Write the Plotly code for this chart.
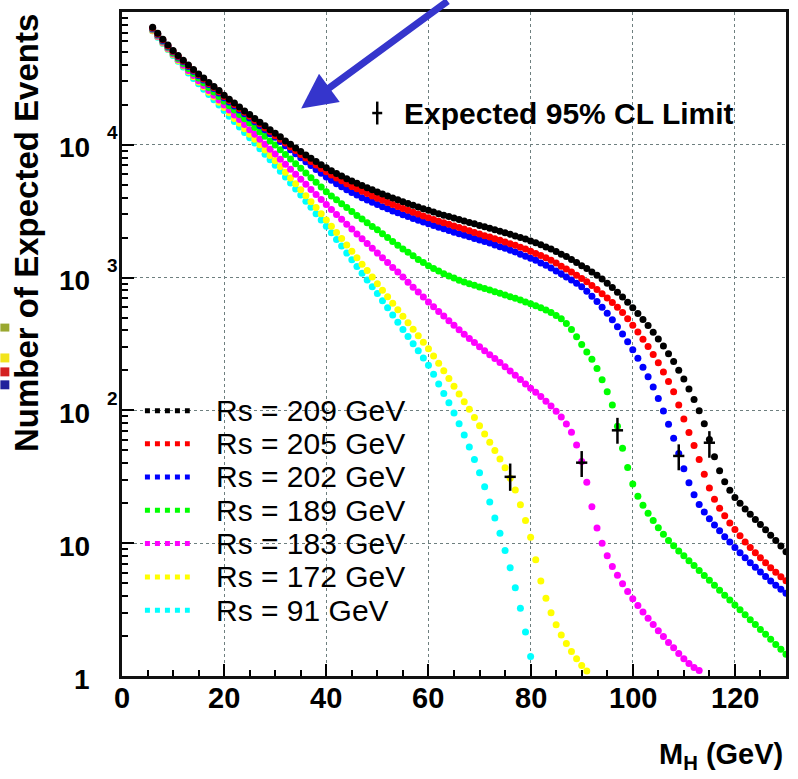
import numpy as np
import plotly.graph_objects as go

# Higgs mass scan points (GeV)
mh = list(range(6, 131))

# Expected number of events versus M_H for each centre-of-mass energy
n209 = [76700, 69200, 62400, 56500, 51300, 47000, 43300, 39900, 36900, 34200,
        31800, 29500, 27500, 25600, 23600, 22000, 20600, 19300, 18000, 16900,
        15800, 14800, 13900, 13000, 12200, 11500, 10700, 10100, 9480, 8910,
        8390, 7930, 7480, 7080, 6710, 6380, 6080, 5810, 5560, 5330,
        5130, 4930, 4750, 4580, 4420, 4270, 4120, 3980, 3850, 3730,
        3610, 3510, 3400, 3300, 3210, 3120, 3030, 2950, 2880, 2810,
        2740, 2670, 2600, 2540, 2470, 2410, 2350, 2290, 2230, 2180,
        2120, 2060, 2000, 1950, 1890, 1830, 1770, 1700, 1640, 1570,
        1500, 1440, 1370, 1300, 1230, 1170, 1100, 1040, 975, 908,
        841, 776, 713, 652, 593, 537, 484, 435, 388, 345,
        305, 267, 233, 201, 172, 145, 121, 99.3, 79.4, 60.3,
        44.7, 35.1, 29.0, 25.0, 22.1, 20.0, 18.1, 16.5, 15.1, 13.8,
        12.6, 11.5, 10.5, 9.51, 8.61]
n205 = [75900, 68400, 61700, 55800, 50700, 46500, 42700, 39400, 36400, 33700,
        31300, 29000, 27000, 25100, 23100, 21600, 20100, 18800, 17600, 16400,
        15300, 14400, 13400, 12600, 11700, 11000, 10300, 9640, 9040, 8470,
        7960, 7480, 7050, 6640, 6270, 5930, 5620, 5350, 5090, 4860,
        4660, 4470, 4290, 4120, 3960, 3820, 3680, 3550, 3430, 3310,
        3210, 3100, 3010, 2910, 2820, 2740, 2660, 2590, 2520, 2450,
        2380, 2320, 2250, 2190, 2130, 2070, 2020, 1960, 1910, 1850,
        1800, 1750, 1690, 1640, 1580, 1520, 1470, 1410, 1350, 1290,
        1220, 1160, 1100, 1040, 986, 929, 871, 813, 757, 701,
        649, 597, 547, 490, 437, 389, 344, 303, 264, 228,
        195, 165, 138, 110, 86.1, 68.1, 54.3, 42.7, 33.1, 26.0,
        21.4, 18.3, 16.1, 14.2, 12.7, 11.4, 10.2, 9.29, 8.47, 7.76,
        7.11, 6.53, 6.03, 5.60, 5.22]
n202 = [75000, 67600, 61000, 55200, 50100, 45900, 42200, 38800, 35800, 33100,
        30700, 28500, 26500, 24600, 22600, 21000, 19600, 18300, 17100, 15900,
        14900, 13900, 13000, 12100, 11400, 10600, 9840, 9160, 8550, 7980,
        7450, 6970, 6520, 6110, 5730, 5400, 5090, 4830, 4590, 4380,
        4180, 4000, 3840, 3690, 3550, 3420, 3300, 3180, 3080, 2970,
        2880, 2790, 2700, 2620, 2540, 2470, 2390, 2330, 2260, 2200,
        2140, 2080, 2030, 1970, 1920, 1870, 1820, 1760, 1710, 1660,
        1610, 1560, 1500, 1450, 1400, 1350, 1290, 1240, 1180, 1120,
        1070, 1010, 959, 906, 853, 789, 724, 661, 598, 538,
        481, 427, 376, 329, 286, 247, 211, 179, 150, 123,
        98.9, 78.5, 61.7, 47.3, 36.3, 28.5, 23.2, 19.6, 17.2, 15.3,
        13.7, 12.4, 11.2, 10.2, 9.29, 8.49, 7.78, 7.14, 6.58, 6.07,
        5.61, 5.20, 4.83, 4.50, 4.20]
n189 = [74100, 66700, 60100, 54300, 49200, 44900, 41000, 37600, 34500, 31800,
        29300, 27000, 25000, 23100, 21300, 19700, 18300, 16900, 15700, 14600,
        13500, 12500, 11600, 10700, 9950, 9180, 8470, 7820, 7210, 6650,
        6140, 5660, 5220, 4810, 4440, 4120, 3850, 3600, 3370, 3150,
        2940, 2760, 2590, 2430, 2290, 2140, 2000, 1870, 1750, 1640,
        1550, 1460, 1370, 1300, 1230, 1170, 1120, 1070, 1030, 991,
        957, 927, 899, 875, 851, 828, 805, 783, 762, 741,
        719, 698, 678, 656, 635, 614, 592, 569, 545, 519,
        490, 452, 407, 359, 313, 275, 243, 207, 170, 138,
        110, 75.9, 51.9, 37.2, 27.9, 22.6, 19.3, 16.8, 14.8, 13.1,
        11.7, 10.5, 9.55, 8.75, 8.04, 7.38, 6.78, 6.22, 5.71, 5.25,
        4.82, 4.43, 4.06, 3.73, 3.43, 3.15, 2.89, 2.65, 2.44, 2.24,
        2.06, 1.89, 1.73, 1.59, 1.46]
n183 = [73300, 65800, 59200, 53300, 48200, 43800, 39800, 36300, 33200, 30400,
        27900, 25600, 23600, 21700, 19900, 18300, 16800, 15500, 14200, 13000,
        12000, 11000, 10100, 9270, 8510, 7800, 7140, 6550, 6000, 5500,
        5040, 4610, 4230, 3870, 3550, 3260, 2990, 2750, 2520, 2320,
        2130, 1960, 1810, 1660, 1530, 1410, 1300, 1190, 1100, 1010,
        923, 847, 778, 714, 656, 604, 556, 513, 473, 438,
        405, 375, 348, 324, 301, 281, 263, 246, 229, 213,
        198, 184, 171, 158, 147, 137, 127, 117, 108, 98.6,
        89.1, 79.1, 68.4, 55.0, 41.2, 28.8, 18.8, 13.0, 10.0, 8.04,
        6.68, 5.73, 4.95, 4.33, 3.82, 3.40, 3.03, 2.72, 2.44, 2.19,
        1.98, 1.79, 1.63, 1.48, 1.35, 1.24, 1.16, 1.10]
n172 = [72400, 65000, 58500, 52700, 47600, 43200, 39200, 35600, 32500, 29700,
        27200, 24900, 22900, 20900, 19100, 17400, 15800, 14500, 13200, 12000,
        11000, 10000, 9120, 8320, 7590, 6870, 6220, 5620, 5080, 4590,
        4140, 3730, 3370, 3030, 2720, 2440, 2190, 1970, 1760, 1580,
        1410, 1260, 1130, 1010, 899, 804, 718, 641, 573, 512,
        457, 408, 365, 326, 291, 257, 226, 199, 174, 152,
        133, 116, 102, 88.3, 76.6, 66.4, 57.5, 49.9, 43.1, 37.0,
        30.9, 25.1, 19.5, 14.8, 11.1, 7.50, 5.19, 3.85, 2.99, 2.43,
        2.04, 1.76, 1.53, 1.35, 1.20, 1.09]
n91 = [72100, 64600, 57900, 52100, 47000, 42500, 38500, 34800, 31600, 28800,
       26200, 23900, 21800, 19900, 18100, 16400, 15000, 13600, 12400, 11300,
       10300, 9330, 8490, 7710, 7000, 6320, 5710, 5150, 4650, 4180,
       3760, 3380, 3030, 2720, 2440, 2180, 1940, 1730, 1530, 1360,
       1210, 1080, 959, 853, 759, 670, 592, 522, 461, 407,
       360, 318, 281, 248, 219, 187, 158, 134, 114, 95.5,
       79.4, 65.3, 53.1, 42.7, 33.9, 26.6, 20.4, 15.5, 11.9, 8.81,
       6.53, 4.62, 3.24, 2.14, 1.40]

# Expected 95% CL limits (central value with vertical extent)
lim_mh = [76, 90, 97, 109, 115]
lim_n = [31.6, 40.4, 70.8, 45.4, 57.1]
lim_lo = [24.8, 31.5, 56.1, 35.4, 44.0]
lim_hi = [39.8, 49.4, 87.9, 55.5, 69.8]
lim_dm = [1.1, 1.1, 1.1, 1.1, 1.1]

# Legend order (top to bottom) and colours
labels = ["Rs = 209 GeV", "Rs = 205 GeV", "Rs = 202 GeV", "Rs = 189 GeV",
          "Rs = 183 GeV", "Rs = 172 GeV", "Rs = 91 GeV"]
values = [n209, n205, n202, n189, n183, n172, n91]
colors = ["#000000", "#ff0000", "#0000ff", "#00ff00", "#ff00ff", "#ffff00", "#00ffff"]

x_ticks = [0, 20, 40, 60, 80, 100, 120]
y_ticks = [1, 10, 100, 1000, 10000]
y_tick_base = ["1", "10", "10", "10", "10"]
y_tick_exp = ["", "", "2", "3", "4"]

FONT = "Liberation Sans, Arial, Helvetica, sans-serif"
W, H = 798, 779
ML, MR, MT, MB = 122, 10, 9, 103
PW, PH = W - ML - MR, H - MT - MB


def px(xpix):
    return (xpix - ML) / PW


def py(ypix):
    return (MT + PH - ypix) / PH


fig = go.Figure()

# lowest energy drawn first so the high-energy curves sit on top
for lab, vals, col in reversed(list(zip(labels, values, colors))):
    fig.add_trace(go.Scatter(
        x=mh[:len(vals)], y=vals, mode="markers", name=lab,
        marker=dict(size=7, color=col, line=dict(width=0)),
        showlegend=False, hoverinfo="skip"))

fig.add_trace(go.Scatter(
    x=lim_mh, y=lim_n, mode="markers",
    marker=dict(size=2, color="rgba(0,0,0,0)"),
    error_y=dict(type="data", symmetric=False,
                 array=[h - n for h, n in zip(lim_hi, lim_n)],
                 arrayminus=[n - l for n, l in zip(lim_n, lim_lo)],
                 color="black", thickness=2.5, width=0),
    error_x=dict(type="data", array=lim_dm, color="black", thickness=2.5, width=0),
    showlegend=False, hoverinfo="skip"))

grid = dict(showgrid=True, gridcolor="#6e7f7f", griddash="dot", gridwidth=1)

fig.update_xaxes(
    range=[0, 130], tickmode="array", tickvals=x_ticks,
    showticklabels=False,
    ticks="inside", ticklen=12, tickwidth=1.5, tickcolor="black",
    showline=True, mirror=True, linewidth=2.5, linecolor="#111111",
    zeroline=False,
    minor=dict(dtick=5, ticks="inside", ticklen=6, tickwidth=1.5,
               tickcolor="black", showgrid=False),
    **grid)

minor_y = [m * 10 ** e for e in range(5) for m in range(2, 10)]
fig.update_yaxes(
    type="log", range=[0, 5], tickmode="array", tickvals=y_ticks,
    showticklabels=False,
    ticks="inside", ticklen=12, tickwidth=1.5, tickcolor="black",
    showline=True, mirror=True, linewidth=2.5, linecolor="#111111",
    zeroline=False,
    minor=dict(tickmode="array", tickvals=minor_y, ticks="inside", ticklen=6,
               tickwidth=1.5, tickcolor="black", showgrid=False),
    **grid)

annotations = []
shapes = []

# x tick labels
for v in x_ticks:
    annotations.append(dict(
        x=v, xref="x", xanchor="center",
        y=0, yref="paper", yanchor="middle", yshift=-22,
        text=str(v), showarrow=False,
        font=dict(family=FONT, size=29, color="black", weight="bold")))

# y tick labels, "10" with a detached exponent
for v, base, ex in zip(y_ticks, y_tick_base, y_tick_exp):
    annotations.append(dict(
        x=0, xref="paper", xanchor="right", xshift=-30,
        y=np.log10(v), yref="y", yanchor="middle", yshift=-3,
        text=base, showarrow=False,
        font=dict(family=FONT, size=28, color="black", weight="bold")))
    if ex:
        annotations.append(dict(
            x=0, xref="paper", xanchor="center", xshift=-9.5,
            y=np.log10(v), yref="y", yanchor="middle", yshift=12,
            text=ex, showarrow=False,
            font=dict(family=FONT, size=19, color="black", weight="bold")))

# axis titles
annotations.append(dict(
    x=0, xref="paper", xanchor="center", xshift=-96,
    y=py(231), yref="paper", yanchor="middle",
    text="Number of Expected Events", textangle=-90, showarrow=False,
    font=dict(family=FONT, size=33, color="black", weight="bold")))
annotations.append(dict(
    x=1, xref="paper", xanchor="right", xshift=-1,
    y=0, yref="paper", yanchor="middle", yshift=-80,
    text="M<sub>H</sub> (GeV)", showarrow=False,
    font=dict(family=FONT, size=29, color="black", weight="bold")))

# legend of the curves
row_y = [409.5, 442.8, 476.0, 509.5, 543.0, 576.5, 610.0]
for lab, col, ry in zip(labels, colors, row_y):
    shapes.append(dict(type="line", xref="paper", yref="paper",
                       x0=px(145), x1=px(190), y0=py(ry), y1=py(ry),
                       line=dict(color=col, width=5, dash="dot")))
    annotations.append(dict(
        x=px(214), xref="paper", xanchor="left",
        y=py(ry), yref="paper", yanchor="middle",
        text=lab, showarrow=False,
        font=dict(family=FONT, size=30, color="black")))

# legend entry for the limit markers
shapes.append(dict(type="line", xref="paper", yref="paper",
                   x0=px(378), x1=px(378), y0=py(99), y1=py(122),
                   line=dict(color="black", width=2.5)))
shapes.append(dict(type="line", xref="paper", yref="paper",
                   x0=px(373), x1=px(383), y0=py(110.5), y1=py(110.5),
                   line=dict(color="black", width=2.5)))
annotations.append(dict(
    x=px(403), xref="paper", xanchor="left",
    y=py(111), yref="paper", yanchor="middle",
    text="Expected 95% CL Limit", showarrow=False,
    font=dict(family=FONT, size=30, color="black", weight="bold")))

# blue pointer arrow
annotations.append(dict(
    x=px(301.7), y=py(106), xref="paper", yref="paper",
    text="", showarrow=True, arrowhead=2, arrowsize=1, arrowwidth=7,
    arrowcolor="#3535cc", ax=148, ay=-118, standoff=0))

# fragments of a neighbouring panel at the left edge
for y0, y1, col in [(322, 330, "#9aa830"), (352, 361, "#f2e41c"),
                    (366, 375, "#d42020"), (379, 388, "#20209c")]:
    shapes.append(dict(type="rect", xref="paper", yref="paper",
                       x0=px(0), x1=px(9), y0=py(y1), y1=py(y0),
                       line=dict(width=0), fillcolor=col, layer="above"))

fig.update_layout(
    width=W, height=H,
    margin=dict(l=ML, r=MR, t=MT, b=MB),
    paper_bgcolor="white", plot_bgcolor="white",
    showlegend=False,
    annotations=annotations, shapes=shapes,
    font=dict(family=FONT, color="black"))

fig.write_html("out.html")
